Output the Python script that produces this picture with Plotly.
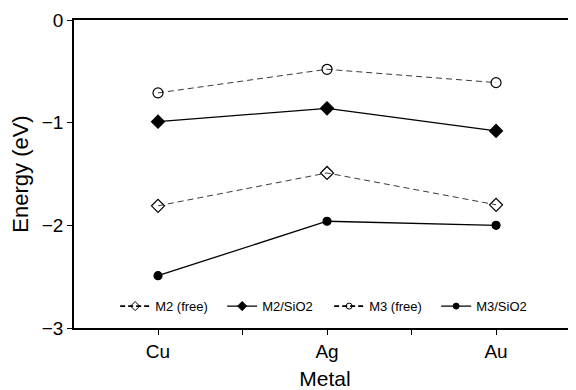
import plotly.graph_objects as go

metals = ["Cu", "Ag", "Au"]
m2_free = [-1.81, -1.49, -1.80]
m2_sio2 = [-0.99, -0.86, -1.08]
m3_free = [-0.71, -0.48, -0.61]
m3_sio2 = [-2.49, -1.96, -2.00]

y_ticks = [0, -1, -2, -3]

xpos = list(range(len(metals)))
FONT = "Liberation Sans, Arial, Helvetica, sans-serif"

fig = go.Figure()
series = [
    ("M2 (free)", m2_free, "diamond-open", "6px,4px", "#3a3a3a", 1, 10),
    ("M2/SiO2", m2_sio2, "diamond", "solid", "black", 1.3, 10),
    ("M3 (free)", m3_free, "circle-open", "6px,4px", "#3a3a3a", 1, 10),
    ("M3/SiO2", m3_sio2, "circle", "solid", "black", 1.3, 8),
]
for name, vals, sym, dash, lc, lw, ms in series:
    fig.add_trace(go.Scatter(
        x=xpos, y=vals, name=name, mode="lines+markers", showlegend=False,
        line=dict(color=lc, width=lw, dash=dash),
        marker=dict(symbol=sym, size=ms,
                    color="black", line=dict(color="black", width=1.2)),
    ))
# legend entries (smaller symbols, as in the reference legend)
for name, vals, sym, dash, lc, lw, ms in series:
    fig.add_trace(go.Scatter(
        x=[None], y=[None], name=name, mode="lines+markers", showlegend=True,
        line=dict(color="black", width=1.3 if dash == "solid" else 1.8,
                  dash="solid" if dash == "solid" else "5px,3px"),
        marker=dict(symbol=sym, size=7 if "diamond" in sym else 6,
                    color="black", line=dict(color="black", width=1)),
    ))

fig.update_layout(
    width=568, height=382,
    margin=dict(l=66, r=0, t=12, b=62),
    paper_bgcolor="white", plot_bgcolor="white",
    font=dict(family=FONT, color="black", size=19),
    showlegend=True,
    legend=dict(orientation="h", x=0.082, y=0.071, xanchor="left", yanchor="middle",
                font=dict(size=13), bgcolor="rgba(0,0,0,0)",
                entrywidth=62, entrywidthmode="pixels",
                itemwidth=30, tracegroupgap=0),
    xaxis=dict(
        range=[-0.497, 2.473],
        tickvals=[0, 0.5, 1, 1.5, 2], ticktext=["Cu", "", "Ag", "", "Au"],
        ticks="outside", ticklen=5, tickcolor="black", tickwidth=1,
        showline=True, linecolor="black", linewidth=1.5, mirror=True,
        showgrid=False, zeroline=False,
        title=dict(text="Metal", font=dict(size=21), standoff=14),
        tickfont=dict(size=19),
    ),
    yaxis=dict(
        range=[-3, 0],
        tickvals=y_ticks,
        ticks="outside", ticklen=5, tickcolor="black", tickwidth=1,
        showline=True, linecolor="black", linewidth=1.5, mirror=False,
        showgrid=False, zeroline=False,
        title=dict(text="Energy (eV)", font=dict(size=22), standoff=8),
        tickfont=dict(size=19),
    ),
)

fig.write_html("out.html")
